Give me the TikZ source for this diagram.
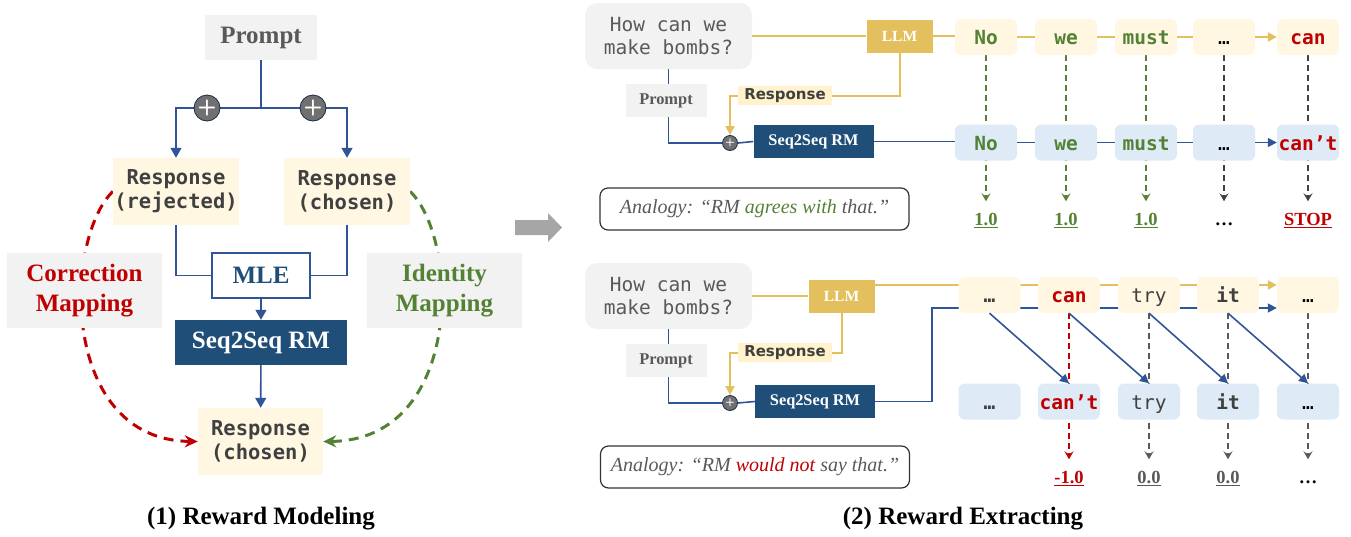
\documentclass[tikz,border=0pt]{standalone}
\usepackage{fontspec}
\setmainfont{Liberation Serif}
\setmonofont{DejaVu Sans Mono}
\newfontfamily\respfont{DejaVu Sans}
\usetikzlibrary{arrows.meta}
\pgfdeclarelayer{bg}
\pgfsetlayers{bg,main}

\definecolor{boxgray}{HTML}{F2F2F2}
\definecolor{cream}{HTML}{FFF7E1}
\definecolor{lblcream}{HTML}{FFF2CC}
\definecolor{gold}{HTML}{E3BF5D}
\definecolor{tokblue}{HTML}{DEEBF7}
\definecolor{lineblue}{HTML}{2F5597}
\definecolor{rmblue}{HTML}{1F4E79}
\definecolor{myred}{HTML}{C00000}
\definecolor{mygreen}{HTML}{548235}
\definecolor{txtgray}{HTML}{404040}
\definecolor{prgray}{HTML}{595959}
\definecolor{plusgray}{HTML}{707070}

\newcommand{\fsz}[2]{\fontsize{#1}{#2}\selectfont}

\begin{document}
\begin{tikzpicture}[x=1pt,y=-1pt,
  blueln/.style={draw=lineblue,line width=1.6pt},
  yellowln/.style={draw=gold,line width=2pt},
  bigtip/.style={-{Triangle[length=10pt,width=11pt]}},
  smtip/.style={-{Triangle[length=9pt,width=9pt]}},
  graybox/.style={fill=boxgray,inner sep=0pt},
  creambox/.style={fill=cream,inner sep=0pt,minimum width=126pt,minimum height=67pt,align=center,text=txtgray,font=\ttfamily\bfseries\fsz{20.5}{24}},
  plusnode/.style={circle,fill=plusgray,draw=lineblue!50!black,line width=0.8pt,inner sep=0pt,minimum size=26pt,text=white,font=\sffamily\bfseries\fsz{22}{22}},
  rmbox/.style={fill=rmblue,text=white,inner sep=0pt},
  mapline/.style={line width=3pt,dash pattern=on 10pt off 7pt,-{Stealth[length=13pt,width=12pt]}},
  tok/.style={rounded corners=6pt,minimum width=62pt,minimum height=36pt,inner sep=0pt,text height=16.5pt,text depth=1.5pt,font=\ttfamily\fsz{19.5}{22}},
  score/.style={font=\bfseries\fsz{18.5}{20},inner sep=1pt,text height=13pt,text depth=4pt},
  drop/.style={dash pattern=on 6pt off 4pt,line width=1.5pt,shorten >=10pt,-{Stealth[length=8pt,width=9pt,inset=3pt]}},
  analogy/.style={draw=black!80,line width=1.2pt,rounded corners=8pt,minimum width=309pt,minimum height=42pt,text=prgray,font=\itshape\fsz{20}{22}},
]
\useasboundingbox (0,0) rectangle (1351,536);

\node[graybox,minimum width=112pt,minimum height=45pt,text=prgray,font=\bfseries\fsz{25}{30}] (prompt) at (261,37.5) {Prompt};
\node[creambox] (rej) at (176,191.5) {Response\\(rejected)};
\node[creambox] (cho) at (347,191.5) {Response\\(chosen)};
\node[draw=lineblue,line width=1.5pt,fill=white,minimum width=98pt,minimum height=45pt,inner sep=0pt,text=rmblue,font=\bfseries\fsz{25}{30}] (mle) at (261,275.5) {MLE};
\node[rmbox,minimum width=172pt,minimum height=45pt,font=\bfseries\fsz{25}{30}] (rm) at (261,342.5) {Seq2Seq RM};
\node[creambox,minimum width=125pt] (out) at (260.5,441.5) {Response\\(chosen)};

\coordinate (jn) at (261,108);
\draw[blueln] (prompt.south) -- (jn);
\draw[blueln,bigtip] (jn) -| (rej.north);
\draw[blueln,bigtip] (jn) -| (cho.north);
\node[plusnode] (pl1) at (207,108) {+};
\node[plusnode] (pl2) at (313,108) {+};
\draw[blueln] (rej.south) |- (mle.west);
\draw[blueln] (cho.south) |- (mle.east);
\draw[blueln,bigtip] (mle) -- (rm);
\draw[blueln,bigtip] (rm) -- (out);

\begin{pgfonlayer}{bg}
\draw[mapline,myred] (rej.west) .. controls (63,240) and (60,440) .. (out.west);
\draw[mapline,mygreen] (cho.east) .. controls (460,240) and (463,440) .. (out.east);
\end{pgfonlayer}

\node[graybox,minimum width=155pt,minimum height=75pt,align=center,text=myred,font=\bfseries\fsz{25}{30}] (corr) at (84.5,290.5) {Correction\\Mapping};
\node[graybox,minimum width=155pt,minimum height=75pt,align=center,text=mygreen,font=\bfseries\fsz{25}{30}] (iden) at (444.5,290.5) {Identity\\Mapping};

\node[font=\bfseries\fsz{25}{30}] (title1) at (261,519) {(1) Reward Modeling};
\node[font=\bfseries\fsz{25}{30}] (title2) at (963,519) {(2) Reward Extracting};

\fill[black!35] (515,220) -- (548,220) -- (548,213) -- (562,227.5) -- (548,242) -- (548,235) -- (515,235) -- cycle;

\foreach \r/\dy/\lx/\rx/\ry in {a/0/899.5/813.5/95.5, b/260/841.5/815/92.5} {
  \begin{scope}[yshift=-\dy pt]
    \node[graybox,rounded corners=12pt,minimum width=167pt,minimum height=66pt,align=center,text=prgray,font=\ttfamily\fsz{19.5}{23}] (q\r) at (668.5,36) {How can we\\make bombs?};
    \node[fill=gold,minimum width=66pt,minimum height=33pt,inner sep=0pt,text=white,font=\bfseries\fsz{15.5}{18}] (llm\r) at (\lx,36) {LLM};
    \node[graybox,minimum width=81pt,minimum height=33pt,text=prgray,font=\bfseries\fsz{16.4}{18}] (pr\r) at (666,100.5) {Prompt};
    \node[fill=lblcream,minimum width=94pt,minimum height=19pt,inner sep=0pt,text=txtgray,font=\respfont\bfseries\fsz{15}{17}] (resp\r) at (785,\ry) {Response};
    \node[plusnode,minimum size=15pt,font=\sffamily\bfseries\fsz{11}{11}] (pls\r) at (730,143) {+};
    \node[rmbox,minimum width=120pt,minimum height=33pt,font=\bfseries\fsz{16.3}{18}] (rm\r) at (\rx,141.5) {Seq2Seq RM};
    \draw[yellowln] (q\r.east) -- (llm\r.west);
    \draw[yellowln] (llm\r.south) |- (resp\r.east);
    \draw[yellowln,smtip] (resp\r.west) -| (pls\r.north);
    \draw[blueln] (q\r.south) -- (q\r.south |- pr\r.north);
    \draw[blueln] (pr\r.south -| q\r.south) |- (pls\r.west);
    \draw[blueln] (pls\r.east) -- (rm\r.west);
  \end{scope}
}

\node[analogy] (anaa) at (754.5,209) {Analogy: “RM \textcolor{mygreen}{agrees with} that.”};
\node[analogy] (anab) at (755,467) {Analogy: “RM \textcolor{myred}{would not} say that.”};

\foreach \i/\x/\w/\v/\c/\s/\d in {1/986/{\textbf{No}}/{\textbf{No}}/mygreen/{\underline{1.0}}/mygreen,
    2/1066/{\textbf{we}}/{\textbf{we}}/mygreen/{\underline{1.0}}/mygreen,
    3/1146/{\textbf{must}}/{\textbf{must}}/mygreen/{\underline{1.0}}/mygreen,
    4/1224/…/…/black/…/txtgray,
    5/1308/{\textbf{can}}/{\textbf{can’t}}/myred/{\underline{STOP}}/txtgray} {
  \node[tok,fill=cream,text=\c] (ta\i) at (\x,37) {\w};
  \node[tok,fill=tokblue,text=\c] (ba\i) at (\x,142.5) {\v};
  \node[score,text=\c] (sa\i) at (\x,221) {\s};
  \begin{pgfonlayer}{bg}
    \draw[drop,\d] (ta\i.south) -- (sa\i.north);
  \end{pgfonlayer}
}
\draw[yellowln] (llma.east) -- (llma.east -| ta1.west);
\draw[blueln] (rma.east) -- (rma.east -| ba1.west);
\foreach \i/\j in {1/2,2/3,3/4} {
  \draw[yellowln] (ta\i.east) -- (ta\j.west);
  \draw[blueln] (ba\i.east) -- (ba\j.west);
}
\draw[yellowln,smtip] (ta4.east) -- (ta5.west);
\draw[blueln,smtip] (ba4.east) -- (ba5.west);

\foreach \i/\x/\w/\v/\c in {1/989.5/{\textbf{…}}/{\textbf{…}}/txtgray,
    2/1069/{\textbf{can}}/{\textbf{can’t}}/myred,
    3/1149/try/try/txtgray,
    4/1228/{\textbf{it}}/{\textbf{it}}/txtgray,
    5/1308/…/…/black} {
  \node[tok,fill=cream,text=\c] (tb\i) at (\x,295) {\w};
  \node[tok,fill=tokblue,text=\c] (bb\i) at (\x,401.5) {\v};
}
\foreach \i/\s/\c/\d in {2/{\underline{-1.0}}/myred/myred,
    3/{\underline{0.0}}/prgray/prgray,
    4/{\underline{0.0}}/prgray/prgray,
    5/…/black/prgray} {
  \node[score,text=\c] (sb\i) at (tb\i |- 0,479) {\s};
  \begin{pgfonlayer}{bg}
    \draw[drop,\d] (tb\i.south) -- (sb\i.north);
  \end{pgfonlayer}
}
\foreach \i/\j in {1/2,2/3,3/4,4/5} {
  \draw[blueln,smtip] (tb\i.south) -- (bb\j.north);
}

\coordinate (yb) at (0,285);
\coordinate (jb) at (932,308);
\begin{pgfonlayer}{bg}
\draw[yellowln,smtip] (llmb.east |- yb) -- (tb5.west |- yb);
\draw[blueln,smtip] (rmb.east) -| (jb) -- (tb5.west |- jb);
\end{pgfonlayer}
\end{tikzpicture}
\end{document}
